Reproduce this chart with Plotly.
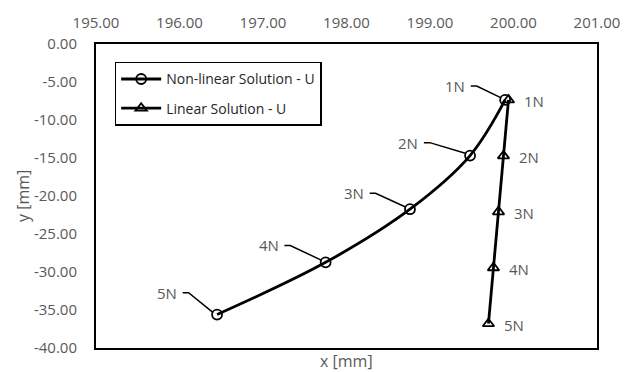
import plotly.graph_objects as go

# Load steps and computed tip positions
loads = ["1N", "2N", "3N", "4N", "5N"]

nonlinear_x = [199.90, 199.48, 198.76, 197.75, 196.45]
nonlinear_y = [-7.36, -14.68, -21.74, -28.73, -35.60]

linear_x = [199.94, 199.88, 199.82, 199.76, 199.70]
linear_y = [-7.36, -14.72, -22.08, -29.44, -36.80]

x_ticks = [195, 196, 197, 198, 199, 200, 201]
y_ticks = [0, -5, -10, -15, -20, -25, -30, -35, -40]

# Figure geometry (pixels)
W, H = 632, 372
ML, MR, MT, MB = 96, 26, 42, 24
X_RANGE = (195, 201)
Y_RANGE = (-40, 0)
PW, PH = W - ML - MR, H - MT - MB
SX = PW / (X_RANGE[1] - X_RANGE[0])  # px per x unit
SY = PH / (Y_RANGE[1] - Y_RANGE[0])  # px per y unit

FONT = "Open Sans"
LABEL_GREY = "#595959"

# Leader-line elbows for the non-linear labels (pixel offsets from the point)
elbows = [(-29, -14), (-41, -13), (-35, -16), (-36, -17), (-29, -22)]
DASH = 6

fig = go.Figure()

fig.add_trace(go.Scatter(
    x=nonlinear_x, y=nonlinear_y, mode="lines+markers",
    name="Non-linear Solution - U", legendgroup="a",
    line=dict(color="black", width=2.8, shape="spline", smoothing=1.0),
    marker=dict(symbol="circle-open", size=10, color="black", line=dict(width=1.8)),
))
fig.add_trace(go.Scatter(
    x=linear_x, y=linear_y, mode="lines+markers",
    name="Linear Solution - U", legendgroup="b",
    line=dict(color="black", width=2.8),
    marker=dict(symbol="triangle-up-open", size=10, color="black", line=dict(width=1.8)),
))

# Leader lines (computed in pixels, converted to data units)
lx, ly = [], []
for px, py, (ex, ey) in zip(nonlinear_x, nonlinear_y, elbows):
    end = (px - 4 / SX, py + 2 / SY)
    elbow = (px + ex / SX, py - ey / SY)
    start = (elbow[0] - DASH / SX, elbow[1])
    lx += [start[0], elbow[0], end[0], None]
    ly += [start[1], elbow[1], end[1], None]
fig.add_trace(go.Scatter(x=lx, y=ly, mode="lines", showlegend=False, hoverinfo="skip",
                         line=dict(color="black", width=1.5)))

annotations = []
for lab, px, py, (ex, ey) in zip(loads, nonlinear_x, nonlinear_y, elbows):
    annotations.append(dict(
        x=px, y=py, xref="x", yref="y", text=lab, showarrow=False,
        xanchor="right", yanchor="middle",
        xshift=ex - DASH - 3, yshift=-ey,
        font=dict(family=FONT, size=15, color=LABEL_GREY)))
for lab, px, py in zip(loads, linear_x, linear_y):
    annotations.append(dict(
        x=px, y=py, xref="x", yref="y", text=lab, showarrow=False,
        xanchor="center", yanchor="middle", xshift=26, yshift=-1,
        font=dict(family=FONT, size=15, color=LABEL_GREY)))

# Axis titles
annotations.append(dict(x=0.5, y=0, xref="paper", yref="paper", text="x [mm]",
                        showarrow=False, xanchor="center", yanchor="middle", yshift=-13,
                        font=dict(family=FONT, size=16, color=LABEL_GREY)))
annotations.append(dict(x=0, y=0.5, xref="paper", yref="paper", text="y [mm]",
                        showarrow=False, xanchor="center", yanchor="middle", xshift=-(ML - 23),
                        textangle=-90, font=dict(family=FONT, size=16, color=LABEL_GREY)))

fig.update_layout(
    width=W, height=H,
    margin=dict(l=ML, r=MR, t=MT, b=MB),
    paper_bgcolor="white", plot_bgcolor="white",
    font=dict(family=FONT, size=15, color=LABEL_GREY),
    annotations=annotations,
    legend=dict(x=(115 - ML) / PW, y=(MT + PH - 60) / PH, xanchor="left", yanchor="top",
                bordercolor="black", borderwidth=1.5, bgcolor="white",
                itemwidth=40, tracegroupgap=8,
                font=dict(family=FONT, size=14, color="#262626")),
    xaxis=dict(range=list(X_RANGE), side="top", tickvals=x_ticks,
               ticktext=[f"{v:.2f}" for v in x_ticks],
               showline=True, mirror=True, linecolor="black", linewidth=2,
               showgrid=False, zeroline=False, ticks="", ticklabelstandoff=8),
    yaxis=dict(range=list(Y_RANGE), tickvals=y_ticks,
               ticktext=[f"{v:.2f}" for v in y_ticks],
               showline=True, mirror=True, linecolor="black", linewidth=2,
               showgrid=False, zeroline=False, ticks="", ticklabelstandoff=14),
)

fig.write_html("out.html")
